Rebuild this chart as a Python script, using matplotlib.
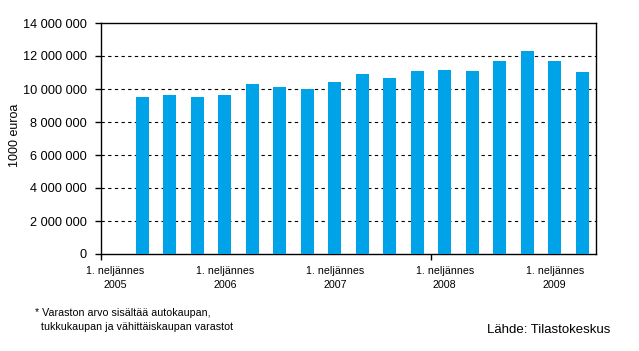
import matplotlib
matplotlib.use("Agg")
import matplotlib.pyplot as plt
import numpy as np

plt.rcParams['font.family'] = ['Liberation Sans', 'DejaVu Sans']

# quarters Q1/2005 .. Q2/2009, first quarter has no value
quarters = ["2005Q1", "2005Q2", "2005Q3", "2005Q4",
            "2006Q1", "2006Q2", "2006Q3", "2006Q4",
            "2007Q1", "2007Q2", "2007Q3", "2007Q4",
            "2008Q1", "2008Q2", "2008Q3", "2008Q4",
            "2009Q1", "2009Q2"]
values = [np.nan, 9530000, 9650000, 9530000, 9650000,
          10320000, 10140000, 9980000, 10440000,
          10930000, 10680000, 11110000, 11170000,
          11110000, 11720000, 12320000, 11720000, 11050000]
tick_labels = ["1. neljännes\n2005", "1. neljännes\n2006", "1. neljännes\n2007",
               "1. neljännes\n2008", "1. neljännes\n2009"]

fig = plt.figure(figsize=(6.39, 3.51), dpi=100)
ax = fig.add_axes([101/639, 97/351, 495/639, 231/351])

x = np.arange(len(quarters))
ax.bar(x, values, width=0.47, color='#00A3E8', zorder=3)

ax.set_xlim(-0.5, len(quarters) - 0.5)
ax.set_ylim(0, 14000000)
yt = np.arange(0, 14000001, 2000000)
ax.set_yticks(yt)
ax.set_yticklabels([f"{int(v):,}".replace(",", " ") for v in yt], fontsize=9.2)
for v in yt[1:-1]:
    ax.axhline(v, color='black', lw=0.8, ls=(0, (3, 3)), zorder=1)

ax.set_xticks(x[::4])
ax.set_xticklabels(tick_labels, fontsize=7.7, linespacing=1.45)
ax.tick_params(axis='x', length=0, pad=9)
ax.set_xticks([-0.5, 11.5], minor=True)
ax.tick_params(axis='x', which='minor', length=4, width=1, direction='out')
ax.tick_params(axis='y', length=4, width=1, direction='out', pad=6)

for s in ax.spines.values():
    s.set_linewidth(1.0)
    s.set_color('black')

fig.text(15/639, 1 - 135/351, "1000 euroa", rotation=90, ha='center', va='center', fontsize=9)

fig.text(35/639, 1 - 320/351, "* Varaston arvo sisältää autokaupan,\n  tukkukaupan ja vähittäiskaupan varastot",
         ha='left', va='center', fontsize=7.7, linespacing=1.45)
fig.text(610/639, 1 - 330/351, "Lähde: Tilastokeskus", ha='right', va='center', fontsize=9.5)

fig.savefig("out.png", dpi=100)
